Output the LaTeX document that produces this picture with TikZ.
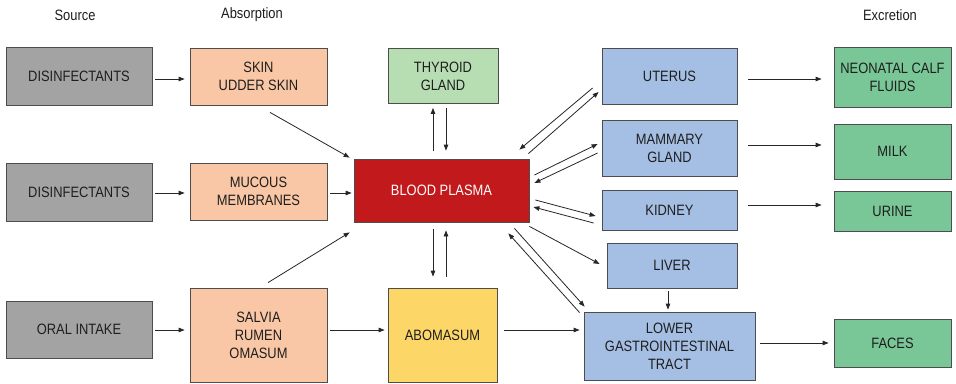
\documentclass[tikz,border=0pt]{standalone}
\usepackage{fontspec}
\setmainfont{Liberation Sans}[FakeStretch=0.86]
\usetikzlibrary{calc,arrows.meta}
\definecolor{cgray}{HTML}{A3A3A3}
\definecolor{cpeach}{HTML}{F9C7A5}
\definecolor{clgreen}{HTML}{B7DEB3}
\definecolor{cred}{HTML}{C21A1C}
\definecolor{cblue}{HTML}{A4BFE3}
\definecolor{cgreen}{HTML}{79C797}
\definecolor{cyellow}{HTML}{FDD668}
\definecolor{cborder}{HTML}{4D4D4D}
\definecolor{ctext}{HTML}{1E1E1E}
\begin{document}
\begin{tikzpicture}[x=1pt,y=-1pt,
  box/.style={draw=cborder,line width=0.8pt,inner sep=0pt,align=center,text=ctext,
    font=\fontsize{15}{18}\selectfont},
  hdr/.style={text=ctext,font=\fontsize{15}{18}\selectfont},
  arr/.style={draw=black!85,line width=0.8pt,-{Triangle[length=6pt,width=4.5pt]}}]
\useasboundingbox[fill=white] (0,0) rectangle (956,383);
% headers
\node[hdr] (hsrc) at (75,15) {Source};
\node[hdr] (habs) at (252,15) {Absorption};
\node[hdr] (hexc) at (890,15) {Excretion};
% boxes
\node[box,fill=cgray,minimum width=146pt,minimum height=58pt] (dis1) at (79,76) {DISINFECTANTS};
\node[box,fill=cpeach,minimum width=137pt,minimum height=57pt] (skin) at (258.5,76.5) {SKIN\\UDDER SKIN};
\node[box,fill=clgreen,minimum width=110pt,minimum height=55pt] (thy) at (443,76) {THYROID\\GLAND};
\node[box,fill=cred,text=white,minimum width=175pt,minimum height=63pt] (blood) at (441.5,190.5) {BLOOD PLASMA};
\node[box,fill=cblue,minimum width=135pt,minimum height=56pt] (ut) at (669.5,76) {UTERUS};
\node[box,fill=cgreen,minimum width=117pt,minimum height=60pt] (neo) at (892.5,77) {NEONATAL CALF\\FLUIDS};
\node[box,fill=cblue,minimum width=135pt,minimum height=56pt] (mam) at (669.5,148) {MAMMARY\\GLAND};
\node[box,fill=cgreen,minimum width=117pt,minimum height=55pt] (milk) at (892.5,151.5) {MILK};
\node[box,fill=cblue,minimum width=135pt,minimum height=40pt] (kid) at (669.5,210) {KIDNEY};
\node[box,fill=cgreen,minimum width=117pt,minimum height=40pt] (urine) at (892.5,211) {URINE};
\node[box,fill=cblue,minimum width=130pt,minimum height=45pt] (liver) at (672,265.5) {LIVER};
\node[box,fill=cblue,minimum width=171pt,minimum height=68pt] (lgi) at (669.5,346) {LOWER\\GASTROINTESTINAL\\TRACT};
\node[box,fill=cgreen,minimum width=117pt,minimum height=48pt] (faces) at (892.5,343) {FACES};
\node[box,fill=cgray,minimum width=146pt,minimum height=58pt] (dis2) at (79,192) {DISINFECTANTS};
\node[box,fill=cpeach,minimum width=137pt,minimum height=57pt] (muc) at (258.5,191.5) {MUCOUS\\MEMBRANES};
\node[box,fill=cgray,minimum width=146pt,minimum height=57pt] (oral) at (79,329.5) {ORAL INTAKE};
\node[box,fill=cpeach,minimum width=137pt,minimum height=94pt] (salv) at (258.5,335) {SALVIA\\RUMEN\\OMASUM};
\node[box,fill=cyellow,minimum width=109pt,minimum height=94pt] (abo) at (442.5,335) {ABOMASUM};
% horizontal arrows
\draw[arr] ($(dis1.east)+(3,3)$) -- ($(skin.west)+(-5,2.5)$);
\draw[arr] ($(dis2.east)+(3,1)$) -- ($(muc.west)+(-5,1.5)$);
\draw[arr] ($(muc.east)+(3,1.5)$) -- ($(blood.west)+(-2,2.5)$);
\draw[arr] ($(oral.east)+(3,0.5)$) -- ($(salv.west)+(-5,-5)$);
\draw[arr] ($(salv.east)+(3,-5)$) -- ($(abo.west)+(-3,-5)$);
\draw[arr] ($(abo.east)+(7,-5)$) -- ($(lgi.west)+(-4,-16)$);
\draw[arr] ($(ut.east)+(11,3)$) -- ($(neo.west)+(-12,2)$);
\draw[arr] ($(mam.east)+(11,-3)$) -- ($(milk.west)+(-12,-6.5)$);
\draw[arr] ($(kid.east)+(11,-5)$) -- ($(urine.west)+(-12,-6)$);
\draw[arr] ($(lgi.east)+(5,-3)$) -- ($(faces.west)+(-5,0)$);
% diagonal arrows into blood
\draw[arr] ($(skin.south)+(11.5,7)$) -- ($(blood.north west)+(-4,-1)$);
\draw[arr] ($(salv.north)+(9.5,-5)$) -- ($(blood.south west)+(-4,10)$);
% thyroid
\draw[arr] ($(blood.north)+(-8.5,-8)$) -- ($(thy.south)+(-10,4)$);
\draw[arr] ($(thy.south)+(3,4)$) -- ($(blood.north)+(4.5,-8)$);
% abomasum
\draw[arr] ($(blood.south)+(-8.5,7)$) -- ($(abo.north)+(-9.5,-11)$);
\draw[arr] ($(abo.north)+(3.5,-11)$) -- ($(blood.south)+(4.5,8)$);
% uterus
\draw[arr] ($(ut.west)+(-9,12)$) -- ($(blood.north east)+(-10,-9)$);
\draw[arr] ($(blood.north east)+(-1,-5)$) -- ($(ut.west)+(-3,16)$);
% mammary
\draw[arr] ($(blood.east)+(5,-15.5)$) -- ($(mam.west)+(-4,-4)$);
\draw[arr] ($(mam.west)+(-4,5)$) -- ($(blood.east)+(5,-7.5)$);
% kidney
\draw[arr] ($(blood.east)+(6,9.5)$) -- ($(kid.west)+(-6,6)$);
\draw[arr] ($(kid.west)+(-8,13)$) -- ($(blood.east)+(4,16.5)$);
% liver
\draw[arr] ($(blood.south east)+(0,4)$) -- ($(liver.west)+(-7,-1.5)$);
\draw[arr] ($(liver.south)+(-4,3)$) -- ($(lgi.north)+(-1.5,-2)$);
% lower GI
\draw[arr] ($(blood.south east)+(-15,6)$) -- ($(lgi.north west)+(1,-5)$);
\draw[arr] ($(lgi.north west)+(-4,1)$) -- ($(blood.south east)+(-21,11)$);
\end{tikzpicture}
\end{document}
